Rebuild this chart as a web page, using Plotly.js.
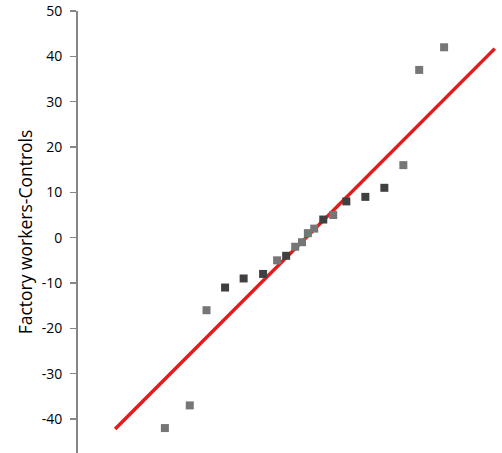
<!DOCTYPE html>
<html>
<head>
<meta charset="utf-8">
<script src="https://cdn.plot.ly/plotly-3.0.1.min.js"></script>
<style>
html,body{margin:0;padding:0;background:#fff;}
#chart{width:502px;height:453px;}
</style>
</head>
<body>
<div id="chart"></div>
<script>
// Theoretical quantiles (x) and observed differences (y)
var theoretical = [-30.9, -25.4, -21.7, -17.6, -13.5, -9.2, -6.1, -4.1, -2.1, -0.6,
                    0.7, 2.1, 4.1, 6.3, 9.2, 13.4, 17.6, 21.8, 25.3, 30.8];
var observed = [-42, -37, -16, -11, -9, -8, -5, -4, -2, -1,
                 1, 2, 4, 5, 8, 9, 11, 16, 37, 42];
// darker markers (overlapping points in the original)
var overlap = [0, 0, 0, 1, 1, 1, 0, 1, 0, 0,
               0, 0, 1, 0, 1, 1, 1, 0, 0, 0];
// reference line end points
var lineX = [-41.9, 42.0];
var lineY = [-42.2, 41.7];
var yTicks = [-40, -30, -20, -10, 0, 10, 20, 30, 40, 50];

var markerColors = overlap.map(function(d){ return d ? '#404040' : '#767676'; });

var data = [
  {x: lineX, y: lineY, type: 'scatter', mode: 'lines',
   line: {color: '#e41a1c', width: 3.5}, hoverinfo: 'skip'},
  {x: theoretical, y: observed, type: 'scatter', mode: 'markers',
   marker: {symbol: 'square', size: 8, color: markerColors}}
];

var layout = {
  width: 502, height: 453,
  margin: {l: 78, r: 0, t: 11, b: 0, pad: 0},
  paper_bgcolor: '#fff', plot_bgcolor: '#fff',
  showlegend: false,
  font: {family: 'Open Sans, sans-serif', color: '#000'},
  xaxis: {range: [-50.1, 43.6], visible: false, showgrid: false, zeroline: false},
  yaxis: {
    range: [-47.5, 50],
    tickvals: yTicks,
    ticktext: yTicks.map(String),
    showgrid: false, zeroline: false,
    showline: true, linecolor: '#868686', linewidth: 2,
    ticks: 'outside', ticklen: 6, tickcolor: '#868686', tickwidth: 1.5,
    ticklabelstandoff: 5,
    tickfont: {size: 14, color: '#000', family: 'Open Sans, sans-serif'},
    title: {text: 'Factory workers-Controls', standoff: 5,
            font: {size: 17.5, color: '#000', family: 'Open Sans, sans-serif'}}
  }
};

Plotly.newPlot('chart', data, layout, {displayModeBar: false, staticPlot: true});
</script>
</body>
</html>
